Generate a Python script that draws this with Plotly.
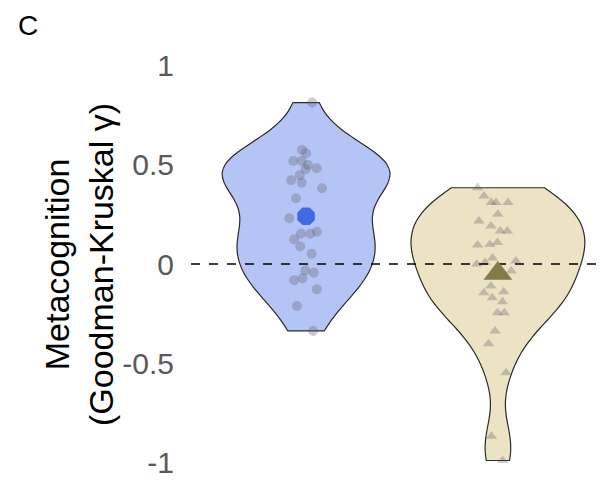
import numpy as np
import plotly.graph_objects as go

# ---- data ----
groups = ["Group 1", "Group 2"]
group1_gamma = [0.815, 0.576, 0.559, 0.52, 0.52, 0.50, 0.478, 0.483, 0.448, 0.423,
                0.41, 0.382, 0.332, 0.231, 0.163, 0.153, 0.153, 0.125, 0.088, 0.052,
                -0.032, -0.044, -0.072, -0.082, -0.128, -0.212, -0.338]
group2_gamma = [0.385, 0.343, 0.31, 0.31, 0.31, 0.251, 0.217, 0.192, 0.167, 0.167,
                0.099, 0.096, 0.108, 0.015, 0.007, 0.03, 0.0, -0.035, -0.111, -0.14,
                -0.145, -0.17, -0.19, -0.246, -0.246, -0.338, -0.402, -0.549, -0.869,
                -0.992]
y_ticks = [-1, -0.5, 0, 0.5, 1]
y_tick_labels = ["-1", "-0.5", "0", "0.5", "1"]

FONT = "Arial, Liberation Sans, sans-serif"
x_pos = [1, 2]
x_range = [0.4, 2.6]


def nrd0(v):
    v = np.asarray(v, dtype=float)
    q75, q25 = np.percentile(v, [75, 25])
    return 0.9 * min(v.std(ddof=1), (q75 - q25) / 1.34) * len(v) ** -0.2


fig = go.Figure()

styles = [
    dict(fill="#b4c4f4", sym="circle", width=0.875, mean_sym="octagon", mean_col="#4169e1", mean_size=19),
    dict(fill="#ebe3c3", sym="triangle-up", width=0.905, mean_sym="triangle-up", mean_col="#857a4a", mean_size=25),
]

for xp, vals, st in zip(x_pos, [group1_gamma, group2_gamma], styles):
    fig.add_trace(go.Violin(
        x=[xp] * len(vals), y=vals,
        spanmode="hard", scalemode="width", width=st["width"],
        bandwidth=nrd0(vals),
        fillcolor=st["fill"], line=dict(color="#2b2b2b", width=1.2),
        points="all", pointpos=0, jitter=0.28,
        marker=dict(symbol=st["sym"], size=10, color="rgba(95,95,110,0.32)",
                    line=dict(width=0)),
        box_visible=False, meanline_visible=False, opacity=1,
        showlegend=False, hoverinfo="skip",
    ))

# dashed reference line at 0
fig.add_trace(go.Scatter(x=x_range, y=[0, 0], mode="lines",
                         line=dict(color="black", width=1.3, dash="dash"),
                         showlegend=False, hoverinfo="skip"))

# means
for xp, vals, st in zip(x_pos, [group1_gamma, group2_gamma], styles):
    fig.add_trace(go.Scatter(x=[xp], y=[float(np.mean(vals))], mode="markers",
                             marker=dict(symbol=st["mean_sym"], size=st["mean_size"],
                                         color=st["mean_col"], line=dict(width=0)),
                             showlegend=False, hoverinfo="skip"))

fig.update_layout(
    width=605, height=487,
    margin=dict(l=183, r=0, t=48, b=23),
    paper_bgcolor="white", plot_bgcolor="white",
    font=dict(family=FONT),
    violinmode="overlay",
    xaxis=dict(range=x_range, visible=False),
    yaxis=dict(range=[-1.05, 1.05], tickvals=y_ticks, ticktext=y_tick_labels,
               showgrid=False, zeroline=False, showline=False, ticks="",
               ticklabelstandoff=16,
               tickfont=dict(size=30, color="#595959", family=FONT)),
    annotations=[
        dict(text="Metacognition<br>(Goodman-Kruskal γ)", textangle=-90,
             xref="paper", yref="paper", x=(71 - 183) / 422, y=0.5,
             xanchor="center", yanchor="middle", showarrow=False,
             font=dict(size=34, color="black", family=FONT)),
        dict(text="C", xref="paper", yref="paper", x=(8 - 183) / 422, y=1 + (48 - 0) / 416,
             xanchor="left", yanchor="top", showarrow=False,
             font=dict(size=28, color="black", family=FONT)),
    ],
)

fig.write_html("out.html")
